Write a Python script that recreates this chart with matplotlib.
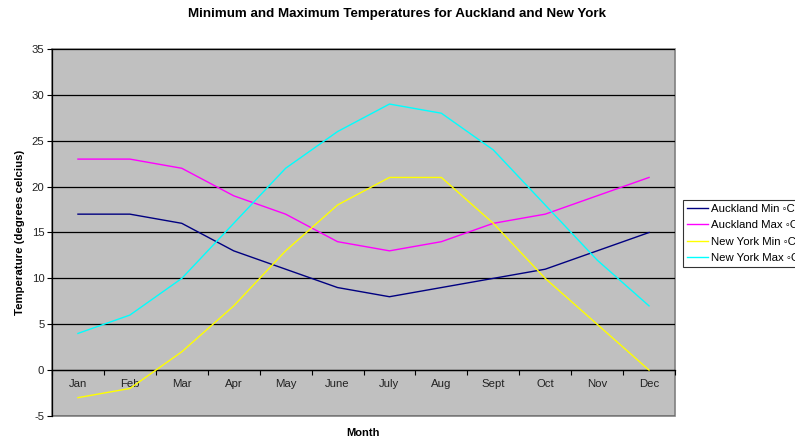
import matplotlib
matplotlib.use("Agg")
import matplotlib.pyplot as plt
import numpy as np

plt.rcParams['font.family'] = ['Liberation Sans', 'DejaVu Sans']
plt.rcParams['axes.unicode_minus'] = False

months = ['Jan', 'Feb', 'Mar', 'Apr', 'May', 'June', 'July', 'Aug', 'Sept', 'Oct', 'Nov', 'Dec']
auckland_min = [17, 17, 16, 13, 11, 9, 8, 9, 10, 11, 13, 15]
auckland_max = [23, 23, 22, 19, 17, 14, 13, 14, 16, 17, 19, 21]
newyork_min = [-3, -2, 2, 7, 13, 18, 21, 21, 16, 10, 5, 0]
newyork_max = [4, 6, 10, 16, 22, 26, 29, 28, 24, 18, 12, 7]
series_labels = ['Auckland Min ◦C', 'Auckland Max ◦C', 'New York Min ◦C', 'New York Max ◦C']
series_colors = ['#000080', '#FF00FF', '#FFFF00', '#00FFFF']
yticks = [-5, 0, 5, 10, 15, 20, 25, 30, 35]

FS = 8.2

fig = plt.figure(figsize=(7.95, 4.4), dpi=100)
ax = fig.add_axes([52/795, 24/440, 623/795, 367/440])
ax.set_facecolor('#C0C0C0')
ax.patch.set_edgecolor('#808080')
ax.patch.set_linewidth(1.2)

x = np.arange(1, len(months) + 1)
for vals, lab, col in zip([auckland_min, auckland_max, newyork_min, newyork_max], series_labels, series_colors):
    ax.plot(x, vals, color=col, lw=1.0, label=lab, zorder=3)

ax.set_xlim(0.5, len(months) + 0.5)
ax.set_ylim(-5, 35)
ax.set_yticks(yticks)
ax.yaxis.grid(True, color='black', lw=0.9)
ax.set_axisbelow(True)
ax.tick_params(axis='y', direction='out', length=3.5, labelsize=FS, colors='black', width=0.8, pad=2)
for t in ax.get_yticklabels():
    t.set_color('#222222')

for s in ['top', 'right']:
    ax.spines[s].set_visible(False)
ax.spines['left'].set_color('black')
ax.spines['left'].set_linewidth(0.9)
ax.spines['bottom'].set_position(('data', 0))
ax.spines['bottom'].set_color('black')
ax.spines['bottom'].set_linewidth(0.9)

ax.set_xticks(np.arange(0.5, len(months) + 1, 1.0))
ax.set_xticklabels([])
ax.set_xticks(x, minor=True)
ax.set_xticklabels(months, minor=True)
ax.tick_params(axis='x', which='major', direction='out', length=3.5, width=0.8)
ax.tick_params(axis='x', which='minor', length=0, labelsize=FS, pad=6.5, labelcolor='#222222')

ax.set_ylabel('Temperature (degrees celcius)', fontsize=FS, fontweight='bold', labelpad=5)
ax.set_xlabel('Month', fontsize=8, fontweight='bold', va='center')
ax.xaxis.set_label_coords(363/795, 1 - 433/440, transform=fig.transFigure)

fig.text(0.5, 1 - 14/440, 'Minimum and Maximum Temperatures for Auckland and New York',
         ha='center', va='center', fontsize=9.6, fontweight='bold')

leg = ax.legend(loc='upper left', bbox_to_anchor=(683/795, 1 - 200/440), bbox_transform=fig.transFigure,
                fontsize=FS, frameon=True, fancybox=False, edgecolor='black', borderpad=0.35,
                labelspacing=0.55, handlelength=1.85, handletextpad=0.25, borderaxespad=0)
leg.get_frame().set_linewidth(0.8)

fig.savefig('out.png', dpi=100)
